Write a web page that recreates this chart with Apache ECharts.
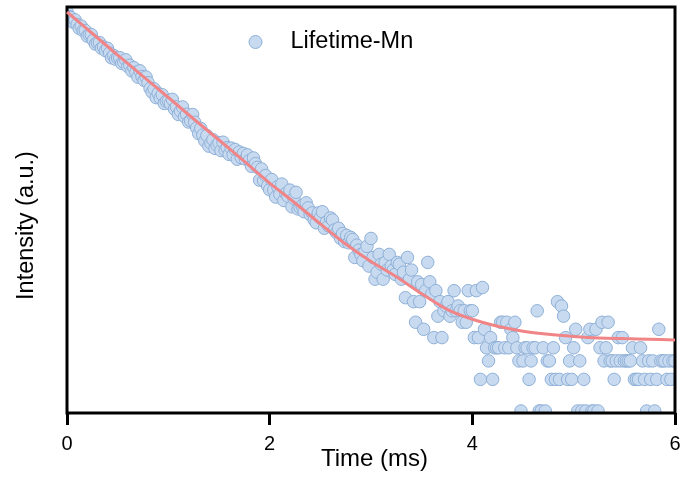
<!DOCTYPE html>
<html>
<head>
<meta charset="utf-8">
<script src="https://cdn.jsdelivr.net/npm/echarts@6/dist/echarts.min.js"></script>
<style>
  html, body { margin: 0; padding: 0; background: #ffffff; }
  #chart { width: 683px; height: 481px; }
</style>
</head>
<body>
<div id="chart"></div>
<script>
// ---------------- data ----------------
const seriesName = "Lifetime-Mn";
const xTickLabels = ["0", "2", "4", "6"];
const binWidthMs = 0.02;               // decay histogram bin width (ms)
// photon counts per bin (bin i at time i * binWidthMs)
const decayCounts = [
  6310,5688,5600,5050,5308,4788,4415,4639,4183,4207,
  3714,3819,3842,3390,3124,3213,3232,2853,2934,2705,
  2842,2563,2311,2430,2240,2303,2317,2044,2103,2211,
  1908,1963,1731,1860,1678,1512,1737,1531,1411,1517,
  1338,1180,1087,1169,965,1061,957,1028,849,892,
  898,846,929,751,789,667,717,787,636,669,
  565,580,666,562,496,438,491,424,374,420,
  333,357,384,317,341,358,302,363,306,322,
  278,319,275,309,250,293,259,284,251,275,
  243,214,257,227,209,158,202,156,175,139,
  128,160,127,109,137,116,145,101,118,111,
  127,88,106,121,84,87,90,79,96,86,
  74,77,66,62,77,69,79,55,63,58,
  69,66,53,50,55,44,49,41,47,40,
  45,43,29,38,34,31,27,33,37,24,
  44,29,18,21,31,25,18,26,22,31,
  24,22,20,26,25,18,21,12,29,18,
  22,11,7,17,11,16,6,14,26,17,
  13,5,14,8,11,5,9,10,11,8,
  9,14,9,10,9,7,9,7,14,9,
  9,5,14,5,2,15,6,4,3,5,
  2,4,4,4,7,7,4,7,4,6,
  5,7,4,3,1,3,4,4,2,3,
  4,4,9,1,1,4,1,3,3,2,
  4,2,11,2,10,8,5,2,3,2,
  4,6,1,3,1,2,1,5,6,1,
  1,6,1,4,7,3,4,7,3,3,
  2,3,5,3,5,3,3,3,3,4,
  2,2,2,4,3,2,1,3,2,3,
  1,2,6,3,3,3,2,3,2,3,
  3
];
// fitted decay curve, every 0.25 ms
const fitTime  = [0, 0.25, 0.5, 0.75, 1.0, 1.25, 1.5, 1.75, 2.0, 2.25, 2.5, 2.75, 3.0,
                  3.25, 3.5, 3.75, 4.0, 4.25, 4.5, 4.75, 5.0, 5.25, 5.5, 5.75, 6.0];
const fitValue = [6310, 3938, 2456, 1537, 968, 604, 381, 238, 148, 95.7, 60.5, 38.9, 26.5,
                  19.0, 13.1, 9.3, 7.48, 6.41, 5.75, 5.37, 5.13, 4.96, 4.89, 4.83, 4.74];

// ---------------- layout / style ----------------
const GRID = { left: 67, top: 7, width: 608, height: 406 };
const FONT = '"Liberation Sans", Arial, sans-serif';
const fillColor = '#c8daef';
const borderColor = '#8eb0d8';
const fitColor = '#f08486';

const scatterData = decayCounts.map((c, i) => [+(i * binWidthMs).toFixed(4), c]);
const fitData = fitTime.map((t, i) => [t, fitValue[i]]);

const W = 683, H = 481;
const gRight = GRID.left + GRID.width, gBottom = GRID.top + GRID.height;

const chart = echarts.init(document.getElementById('chart'), null, { renderer: 'canvas' });
chart.setOption({
  animation: false,
  backgroundColor: '#ffffff',
  textStyle: { fontFamily: FONT },
  grid: { left: GRID.left, top: GRID.top, width: GRID.width, height: GRID.height,
          containLabel: false, outerBoundsMode: 'none' },
  legend: {
    left: 248.5, top: 30, padding: 0,
    itemWidth: 60, itemHeight: 13,
    textStyle: { fontSize: 23.5, color: '#000', fontFamily: FONT },
    data: [{ name: seriesName, icon: 'circle',
             itemStyle: { color: fillColor, borderColor: borderColor, borderWidth: 1 } }]
  },
  xAxis: {
    type: 'value', min: 0, max: 6, interval: 2, z: 12,
    name: 'Time (ms)', nameLocation: 'middle', nameGap: 34, nameMoveOverlap: false,
    nameTextStyle: { fontSize: 24, color: '#000', fontFamily: FONT, padding: [0, 0, 0, 7] },
    axisLine: { show: false },
    axisTick: { show: true, inside: false, length: 12, lineStyle: { color: '#000', width: 3 } },
    axisLabel: { show: true, margin: 21, fontSize: 20, color: '#000', fontFamily: FONT,
                 formatter: (v) => xTickLabels[Math.round(v / 2)] ?? String(v) },
    splitLine: { show: false }
  },
  yAxis: {
    type: 'log', logBase: 10, min: 0.957, max: 7040, z: 12,
    name: 'Intensity (a.u.)', nameLocation: 'middle', nameRotate: 90, nameGap: 28, nameMoveOverlap: false,
    nameTextStyle: { fontSize: 23.5, color: '#000', fontFamily: FONT, padding: [0, 31, 0, 0] },
    axisLine: { show: false }, axisTick: { show: false }, axisLabel: { show: false },
    splitLine: { show: false }
  },
  graphic: [
    { type: 'rect', z: 10, silent: true, shape: { x: 0, y: 0, width: W, height: GRID.top }, style: { fill: '#fff' } },
    { type: 'rect', z: 10, silent: true, shape: { x: 0, y: 0, width: GRID.left, height: H }, style: { fill: '#fff' } },
    { type: 'rect', z: 10, silent: true, shape: { x: gRight, y: 0, width: W - gRight, height: H }, style: { fill: '#fff' } },
    { type: 'rect', z: 10, silent: true, shape: { x: 0, y: gBottom, width: W, height: H - gBottom }, style: { fill: '#fff' } },
    { type: 'rect', z: 11, silent: true, shape: { x: GRID.left, y: GRID.top, width: GRID.width, height: GRID.height },
      style: { fill: 'none', stroke: '#000', lineWidth: 3 } }
  ],
  series: [
    {
      name: seriesName, type: 'scatter', z: 1,
      symbol: 'circle', symbolSize: 12.5,
      itemStyle: { color: fillColor, borderColor: borderColor, borderWidth: 1, opacity: 1 },
      data: scatterData
    },
    {
      name: 'fit', type: 'line', z: 5, zlevel: 1,
      smooth: 0.3, showSymbol: false, symbol: 'none',
      lineStyle: { color: fitColor, width: 3 },
      data: fitData
    }
  ]
});
</script>
</body>
</html>
